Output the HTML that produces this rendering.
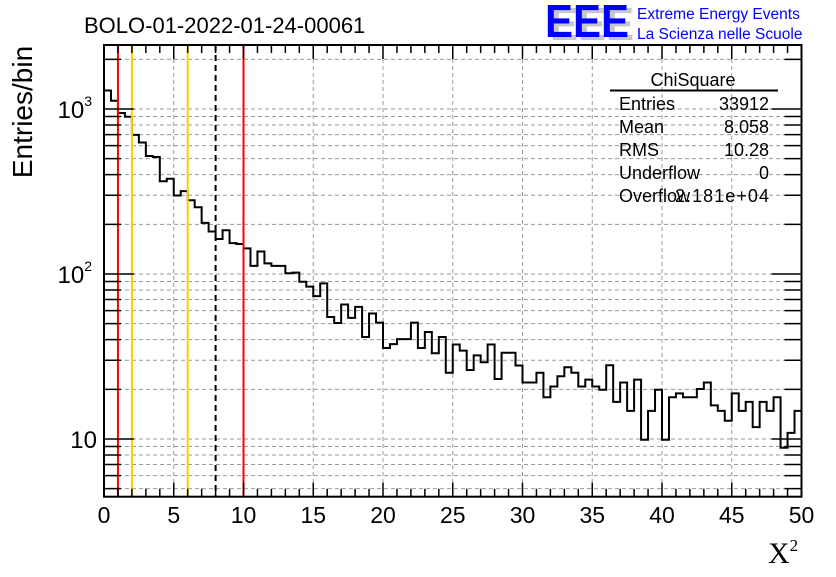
<!DOCTYPE html>
<html><head><meta charset="utf-8"><style>
body{margin:0;background:#fff;}
svg text{font-family:"Liberation Sans",sans-serif;}
</style></head><body>
<svg id="c" width="836" height="572" xmlns="http://www.w3.org/2000/svg">
<rect width="836" height="572" fill="#fff"/>
<g id="grid"></g>
<g id="hist"></g>
<g id="vlines"></g>
<g id="axes"></g>
<text x="84" y="33" font-size="22">BOLO-01-2022-01-24-00061</text>
<g>
<text x="550" y="40" font-size="46" font-weight="bold" fill="#c8c8c8" textLength="84" lengthAdjust="spacingAndGlyphs">EEE</text>
<text x="545" y="37" font-size="46" font-weight="bold" fill="#0000ff" textLength="84" lengthAdjust="spacingAndGlyphs">EEE</text>
<text x="637" y="19" font-size="15.5" fill="#0000ff">Extreme Energy Events</text>
<text x="637" y="39" font-size="15.5" fill="#0000ff">La Scienza nelle Scuole</text>
</g>
<text transform="translate(32,112) rotate(-90)" text-anchor="middle" font-size="28">Entries/bin</text>
<text x="768" y="563" font-size="30" style="font-family:'Liberation Serif',serif">X<tspan font-size="17" dy="-12">2</tspan></text>
<g font-size="18">
<text x="693" y="86" text-anchor="middle">ChiSquare</text>
<line x1="610" y1="90.5" x2="778" y2="90.5" stroke="#000" stroke-width="2"/>
<text x="619" y="110">Entries</text><text x="769" y="110" text-anchor="end">33912</text>
<text x="619" y="133">Mean</text><text x="769" y="133" text-anchor="end">8.058</text>
<text x="619" y="156">RMS</text><text x="769" y="156" text-anchor="end">10.28</text>
<text x="619" y="179">Underflow</text><text x="769" y="179" text-anchor="end">0</text>
<text x="619" y="202">Overflow</text><text x="769" y="202" text-anchor="end" textLength="94">2.181e+04</text>
</g>
</svg>
<script>
const counts=[1294,1123,946,898,697,627,519,512,365,378,299,318,280,254,204,181,163,184,154,152,
143,112,137,116,112,112,101,102,89.8,83.9,73.5,87.7,54.9,50.5,65.3,54.2,63.2,41.5,57.6,50.7,
35.6,37.6,40.3,40.3,50.7,35.6,44.5,33.1,41.5,25.2,37.4,34.3,26.2,32.1,29.2,37.4,23.1,33.3,33.3,27.9,
22.0,22.0,25.2,17.9,20.8,24.0,27.2,25.2,20.8,22.9,20.8,19.9,28.0,16.8,22.0,14.8,22.9,9.9,14.8,19.9,
9.9,17.9,18.9,17.9,17.9,20.1,22.0,16.0,14.8,12.9,18.9,14.8,16.8,11.8,16.8,14.8,17.9,8.85,10.9,14.8];
const xMin=0,xMax=50,binWidth=0.5;
const markersRed=[1,10],markersYellow=[2,6],markersDashed=[8];
const xTicks=[0,5,10,15,20,25,30,35,40,45,50];
const yMin=4.47,yMax=2443;
const L=104,R=801.5,T=45,B=496.7;
const NS="http://www.w3.org/2000/svg";
const sx=v=>L+(v-xMin)/(xMax-xMin)*(R-L);
const sy=v=>B-(Math.log10(v)-Math.log10(yMin))/(Math.log10(yMax)-Math.log10(yMin))*(B-T);
function mk(tag,attrs,parent){const e=document.createElementNS(NS,tag);for(const k in attrs)e.setAttribute(k,attrs[k]);parent.appendChild(e);return e;}
const grid=document.getElementById('grid'),axes=document.getElementById('axes'),hist=document.getElementById('hist'),vl=document.getElementById('vlines');
xTicks.forEach(t=>{if(t>xMin&&t<xMax){const l=mk('line',{x1:sx(t),x2:sx(t),y1:T,y2:B,stroke:'#999','stroke-dasharray':'4,3','stroke-width':1},grid);

}});
const yt=[];for(let d=0;d<=4;d++){for(let m=1;m<=9;m++){const v=m*Math.pow(10,d);if(v>yMin&&v<yMax)yt.push(v);}}
yt.forEach(v=>{const l=mk('line',{x1:L,x2:R,y1:sy(v),y2:sy(v),stroke:'#999','stroke-dasharray':'4,3','stroke-width':1},grid);

});
let d='M'+L+','+B;
counts.forEach((c,i)=>{const x0=sx(xMin+i*binWidth),x1=sx(xMin+(i+1)*binWidth),y=sy(c);d+=' L'+x0+','+y+' L'+x1+','+y;});
d+=' L'+R+','+B;
const p=mk('path',{d:d,fill:'none',stroke:'#000','stroke-width':2},hist);


markersRed.forEach(v=>{const l=mk('line',{x1:sx(v),x2:sx(v),y1:T,y2:B,stroke:'#ff0000','stroke-width':2},vl);

});
markersYellow.forEach(v=>{const l=mk('line',{x1:sx(v),x2:sx(v),y1:T,y2:B,stroke:'#ffcc00','stroke-width':2},vl);

});
markersDashed.forEach(v=>{const l=mk('line',{x1:sx(v),x2:sx(v),y1:T,y2:B,stroke:'#000','stroke-width':2,'stroke-dasharray':'6,4'},vl);

});
const f=mk('rect',{x:L,y:T,width:R-L,height:B-T,fill:'none',stroke:'#000','stroke-width':2},axes);


for(let v=xMin;v<=xMax;v+=1){const big=v%5===0;const len=big?14:8;
mk('line',{x1:sx(v),x2:sx(v),y1:B,y2:B-len,stroke:'#000','stroke-width':1.5},axes);
mk('line',{x1:sx(v),x2:sx(v),y1:T,y2:T+len,stroke:'#000','stroke-width':1.5},axes);}
xTicks.forEach(t=>{const tx=mk('text',{x:sx(t),y:523,'text-anchor':'middle','font-size':23},axes);tx.textContent=t;

});
yt.forEach(v=>{const dec=Math.abs(Math.log10(v)-Math.round(Math.log10(v)))<1e-9;const len=dec?30:17;
mk('line',{x1:L,x2:L+len,y1:sy(v),y2:sy(v),stroke:'#000','stroke-width':1.5},axes);
mk('line',{x1:R,x2:R-len,y1:sy(v),y2:sy(v),stroke:'#000','stroke-width':1.5},axes);});
const yLabels=[[10,'10',''],[100,'10','2'],[1000,'10','3']];
yLabels.forEach(([v,b,e])=>{const tx=mk('text',{x:e?92:97,y:sy(v)+9,'text-anchor':'end','font-size':24},axes);


tx.textContent=b;if(e){const ts=mk('tspan',{'font-size':14,dy:-12},tx);ts.textContent=e;}});
</script>
</body></html>
